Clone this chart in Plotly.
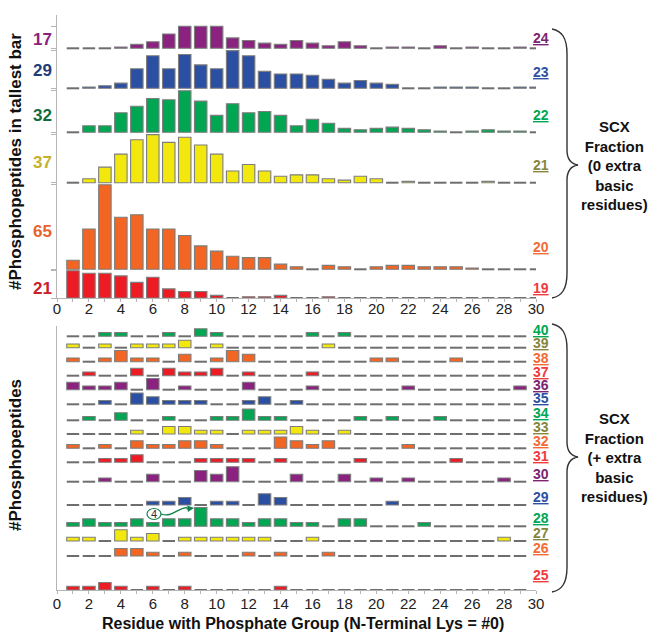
import plotly.graph_objects as go

# ---------------- data ----------------
x_top = list(range(1, 31))
x_bot = list(range(1, 30))

frac19 = [21, 19, 19, 17, 12, 16, 7, 5, 5, 2, 0, 1, 1, 2, 0, 0, 1, 0, 0, 0, 0, 0, 0, 0, 0, 0, 0, 0, 0, 0]
frac20 = [7, 31, 65, 40, 42, 31, 31, 26, 18, 14, 10, 9, 9, 4, 2, 0, 3, 2, 0, 2, 3, 3, 2, 2, 2, 1, 0, 0, 0, 0]
frac21 = [0, 3, 12, 22, 33, 37, 31, 35, 29, 22, 9, 14, 9, 5, 6, 6, 3, 2, 5, 3, 0, 1, 0, 0, 0, 0, 1, 0, 0, 0]
frac22 = [0, 5, 5, 15, 20, 26, 25, 32, 24, 13, 22, 15, 16, 13, 5, 10, 7, 3, 2, 3, 4, 3, 2, 1, 0, 1, 2, 1, 1, 0]
frac23 = [0, 1, 2, 4, 15, 25, 15, 26, 18, 15, 29, 25, 13, 11, 11, 10, 7, 4, 6, 4, 3, 0, 0, 1, 1, 1, 0, 0, 1, 1]
frac24 = [0, 0, 0, 1, 3, 5, 11, 17, 17, 17, 8, 6, 4, 3, 6, 4, 2, 5, 2, 0, 1, 1, 0, 2, 0, 1, 0, 0, 1, 0]

frac25 = [1, 1, 2, 1, 0, 1, 0, 1, 0, 0, 0, 0, 0, 1, 0, 0, 0, 0, 0, 0, 0, 0, 0, 0, 0, 0, 0, 0, 0]
frac26 = [0, 0, 0, 2, 2, 1, 0, 1, 0, 0, 0, 1, 0, 1, 0, 0, 1, 0, 0, 0, 0, 0, 0, 0, 0, 0, 0, 0, 0]
frac27 = [1, 1, 0, 3, 1, 2, 0, 1, 1, 1, 1, 1, 1, 0, 0, 1, 0, 0, 0, 0, 0, 0, 0, 0, 0, 0, 0, 1, 0]
frac28 = [1, 2, 1, 1, 2, 1, 2, 2, 5, 2, 2, 1, 2, 2, 1, 1, 0, 2, 2, 0, 0, 0, 1, 0, 0, 0, 0, 0, 0]
frac29 = [0, 0, 0, 0, 0, 1, 1, 2, 0, 1, 1, 0, 3, 2, 0, 0, 0, 0, 0, 0, 1, 0, 0, 0, 0, 0, 0, 0, 0]
frac30 = [0, 0, 1, 0, 0, 2, 0, 0, 3, 2, 4, 0, 0, 0, 2, 0, 0, 2, 0, 1, 0, 1, 0, 0, 0, 0, 0, 1, 0]
frac31 = [0, 0, 1, 1, 2, 0, 0, 0, 1, 1, 1, 1, 0, 1, 0, 0, 0, 0, 1, 0, 0, 0, 0, 0, 1, 0, 0, 0, 0]
frac32 = [1, 0, 1, 0, 2, 1, 1, 2, 2, 1, 0, 0, 0, 3, 2, 1, 2, 0, 0, 0, 0, 1, 0, 0, 0, 0, 0, 0, 0]
frac33 = [0, 0, 0, 0, 1, 0, 2, 2, 1, 1, 0, 1, 1, 1, 2, 1, 0, 1, 0, 0, 0, 0, 0, 0, 0, 0, 0, 0, 0]
frac34 = [0, 1, 0, 2, 0, 0, 1, 0, 0, 1, 1, 3, 1, 1, 0, 0, 0, 0, 1, 0, 1, 0, 0, 1, 0, 0, 0, 0, 0]
frac35 = [0, 0, 1, 0, 3, 2, 1, 1, 1, 0, 0, 1, 2, 0, 1, 0, 0, 0, 0, 0, 0, 0, 0, 0, 0, 0, 0, 0, 0]
frac36 = [2, 1, 1, 2, 0, 3, 0, 1, 0, 0, 0, 2, 0, 0, 0, 1, 0, 0, 0, 0, 0, 1, 0, 0, 0, 0, 0, 0, 1]
frac37 = [0, 1, 0, 0, 2, 0, 2, 1, 1, 2, 0, 1, 0, 0, 0, 1, 0, 0, 0, 0, 0, 0, 0, 0, 0, 0, 0, 0, 0]
frac38 = [1, 0, 1, 3, 1, 1, 0, 2, 0, 1, 3, 2, 0, 0, 0, 0, 0, 0, 0, 1, 1, 0, 0, 0, 1, 0, 0, 0, 0]
frac39 = [1, 0, 1, 0, 1, 1, 1, 2, 0, 1, 0, 0, 0, 0, 0, 0, 1, 0, 0, 0, 0, 0, 0, 0, 0, 0, 0, 0, 0]
frac40 = [0, 0, 1, 1, 0, 0, 1, 0, 2, 1, 0, 0, 0, 0, 0, 1, 0, 1, 0, 0, 0, 0, 0, 0, 0, 0, 0, 0, 0]

top_names = [19, 20, 21, 22, 23, 24]
top_series = [frac19, frac20, frac21, frac22, frac23, frac24]
bot_names = list(range(25, 41))
bot_series = [frac25, frac26, frac27, frac28, frac29, frac30, frac31, frac32,
              frac33, frac34, frac35, frac36, frac37, frac38, frac39, frac40]

# ---------------- style / layout ----------------
W, H = 653, 632
L_PX, R_PX, T_PX, B_PX = 57, 536, 15, 590
TOP_BOTTOM_PX = 298
BOT_TOP_PX = 326
TOP_SCALE = 1.3      # px per count, top panel
BOT_SCALE = 3.75     # px per count, bottom panel

def px_x(p):
    return (p - L_PX) / (R_PX - L_PX)

def px_y(p):
    return (B_PX - p) / (B_PX - T_PX)

palette = {"red": "#ED1C24", "orange": "#F26522", "yellow": "#F3E80E",
           "green": "#00A651", "blue": "#2B4FA2", "purple": "#8B2280"}
label_col = {"red": "#EF3B3B", "orange": "#F26B35", "yellow": "#87853A",
             "green": "#00A651", "blue": "#2E50A3", "purple": "#7D2472"}
max_col = {"red": "#C8202B", "orange": "#E8632B", "yellow": "#C8B12A",
           "green": "#116B3A", "blue": "#1D3C78", "purple": "#8B2280"}
cycle = ["red", "orange", "yellow", "green", "blue", "purple"]

# baselines (pixel rows) of each fraction strip
top_base_px = [298, 269.3, 182.7, 132.3, 88.3, 48.3]
bot_base_px = [590, 556, 541, 526.3, 505, 481.7, 462.3, 448.3, 434, 420.3,
               404.3, 389.7, 375.7, 361.7, 347.7, 336.3]
top_label_px = [288, 247, 165, 115, 72, 38]
top_max_px = [288, 231, 162, 116, 70, 40]
bot_label_px = [575, 548, 533, 518, 497, 474, 456, 441, 427, 413, 398, 385,
                372, 358, 343, 330]

top_base = [(TOP_BOTTOM_PX - p) / TOP_SCALE for p in top_base_px]
bot_base = [(B_PX - p) / BOT_SCALE for p in bot_base_px]

BAR_W = 0.78
OUTLINE = dict(color="#7d7d7d", width=1.1)
DASH_COL = "#6e6e6e"

fig = go.Figure()

def add_strip(xs, vals, base, color, xa, ya, dash_h):
    ys = [v if v > 0 else None for v in vals]
    fig.add_trace(go.Bar(x=xs, y=ys, base=[base] * len(xs), width=BAR_W,
                         marker=dict(color=color, line=OUTLINE),
                         xaxis=xa, yaxis=ya, cliponaxis=False,
                         showlegend=False, hoverinfo="skip"))
    zx = [x for x, v in zip(xs, vals) if v == 0]
    fig.add_trace(go.Bar(x=zx, y=[dash_h] * len(zx), base=[base - dash_h / 2] * len(zx),
                         width=BAR_W, marker=dict(color=DASH_COL, line=dict(width=0)),
                         xaxis=xa, yaxis=ya, cliponaxis=False,
                         showlegend=False, hoverinfo="skip"))

for i, vals in enumerate(top_series):
    add_strip(x_top, vals, top_base[i], palette[cycle[i % 6]], "x", "y", 2.0 / TOP_SCALE)

for i, vals in enumerate(bot_series):
    add_strip(x_bot, vals, bot_base[i], palette[cycle[i % 6]], "x2", "y2", 2.0 / BOT_SCALE)

annotations = []
BOLD = "Liberation Sans, Arial, sans-serif"

def note(xp, yp, text, size, color, **kw):
    d = dict(x=px_x(xp), y=px_y(yp), xref="paper", yref="paper", text=text,
             showarrow=False, xanchor="center", yanchor="middle",
             font=dict(family=BOLD, size=size, color=color))
    d.update(kw)
    annotations.append(d)

# right-hand fraction numbers (underlined) and left max counts
for i, n in enumerate(top_names):
    c = cycle[i % 6]
    note(541, top_label_px[i], "<b><u>%d</u></b>" % n, 14, label_col[c])
    note(42, top_max_px[i], "<b>%d</b>" % max(top_series[i]), 17, max_col[c])
for i, n in enumerate(bot_names):
    c = cycle[i % 6]
    note(541, bot_label_px[i], "<b><u>%d</u></b>" % n, 14, label_col[c])

# side texts
note(614, 165, "<b>SCX<br>Fraction<br>(0 extra<br>basic<br>residues)</b>", 15, "#111", align="center")
note(614, 457, "<b>SCX<br>Fraction<br>(+ extra<br>basic<br>residues)</b>", 15, "#111", align="center")
note(15, 162, "<b>#Phosphopeptides in tallest bar</b>", 17, "#111", textangle=-90)
note(15, 455, "<b>#Phosphopeptides</b>", 17, "#111", textangle=-90)
note(303, 623, "<b>Residue with Phosphate Group (N-Terminal Lys = #0)</b>", 16, "#111")

# circled "4" with arrow
note(154, 514, "4", 11, "#333")
annotations.append(dict(x=px_x(194), y=px_y(508), xref="paper", yref="paper", text="",
                        showarrow=True, ax=-9, ay=1, arrowhead=2, arrowsize=1,
                        arrowwidth=1.3, arrowcolor="#12804A"))

def brace(x_end, x_mid, x_tip, y_top, y_tip, y_bot):
    pts = [("M", [(x_end, y_top)]),
           ("C", [(x_end + 10, y_top + 2), (x_mid, y_top + 9), (x_mid, y_top + 25)]),
           ("L", [(x_mid, y_tip - 15)]),
           ("C", [(x_mid, y_tip - 5), (x_tip - 6, y_tip - 1), (x_tip, y_tip)]),
           ("C", [(x_tip - 6, y_tip + 1), (x_mid, y_tip + 5), (x_mid, y_tip + 15)]),
           ("L", [(x_mid, y_bot - 25)]),
           ("C", [(x_mid, y_bot - 9), (x_end + 10, y_bot - 2), (x_end, y_bot)])]
    s = ""
    for cmd, ps in pts:
        s += cmd + " " + " ".join("%.5f,%.5f" % (px_x(a), px_y(b)) for a, b in ps) + " "
    return s.strip()

shapes = [
    dict(type="path", xref="paper", yref="paper", path=brace(552, 567, 578, 29, 165, 298),
         line=dict(color="#333", width=1.4)),
    dict(type="path", xref="paper", yref="paper", path=brace(552, 567, 578, 324, 457, 592),
         line=dict(color="#333", width=1.4)),
    dict(type="circle", xref="paper", yref="paper", x0=px_x(147), x1=px_x(161),
         y0=px_y(519.5), y1=px_y(508.5), line=dict(color="#12804A", width=1.2)),
    dict(type="path", xref="paper", yref="paper",
         path="M %.5f,%.5f C %.5f,%.5f %.5f,%.5f %.5f,%.5f" % (
             px_x(161), px_y(514), px_x(172), px_y(518), px_x(177), px_y(508), px_x(187), px_y(507.5)),
         line=dict(color="#12804A", width=1.3)),
]

tick_font = dict(family="Liberation Sans, Arial, sans-serif", size=15, color="#222")
axis_gray = "#b5b5b5"

def xaxis_cfg(anchor, standoff):
    return dict(domain=[0, 1], anchor=anchor, range=[0, 30], showline=True,
                linecolor=axis_gray, linewidth=1, ticks="outside", tickmode="linear",
                tick0=0, dtick=2, ticklen=3, tickcolor=axis_gray, tickfont=tick_font,
                ticklabelstandoff=standoff,
                minor=dict(dtick=1, tick0=0, ticks="outside", ticklen=3, tickcolor=axis_gray),
                showgrid=False, zeroline=False, fixedrange=True)

top_ticks = top_base + [b + max(s) for b, s in zip(top_base, top_series)]

fig.update_layout(
    width=W, height=H,
    margin=dict(l=L_PX, r=W - R_PX, t=T_PX, b=H - B_PX),
    paper_bgcolor="white", plot_bgcolor="white",
    barmode="overlay",
    xaxis=xaxis_cfg("y", -6),
    xaxis2=xaxis_cfg("y2", -3),
    yaxis=dict(domain=[px_y(TOP_BOTTOM_PX), 1], range=[0, (TOP_BOTTOM_PX - T_PX) / TOP_SCALE],
               showline=True, linecolor=axis_gray, linewidth=1, ticks="outside",
               tickmode="array", tickvals=top_ticks, ticklen=5, tickcolor=axis_gray,
               showticklabels=False, showgrid=False, zeroline=False, fixedrange=True),
    yaxis2=dict(domain=[0, px_y(BOT_TOP_PX)], range=[0, (B_PX - BOT_TOP_PX) / BOT_SCALE],
                showline=True, linecolor=axis_gray, linewidth=1, ticks="",
                showticklabels=False, showgrid=False, zeroline=False, fixedrange=True),
    annotations=annotations,
    shapes=shapes,
    showlegend=False,
)

fig.write_html("out.html")
